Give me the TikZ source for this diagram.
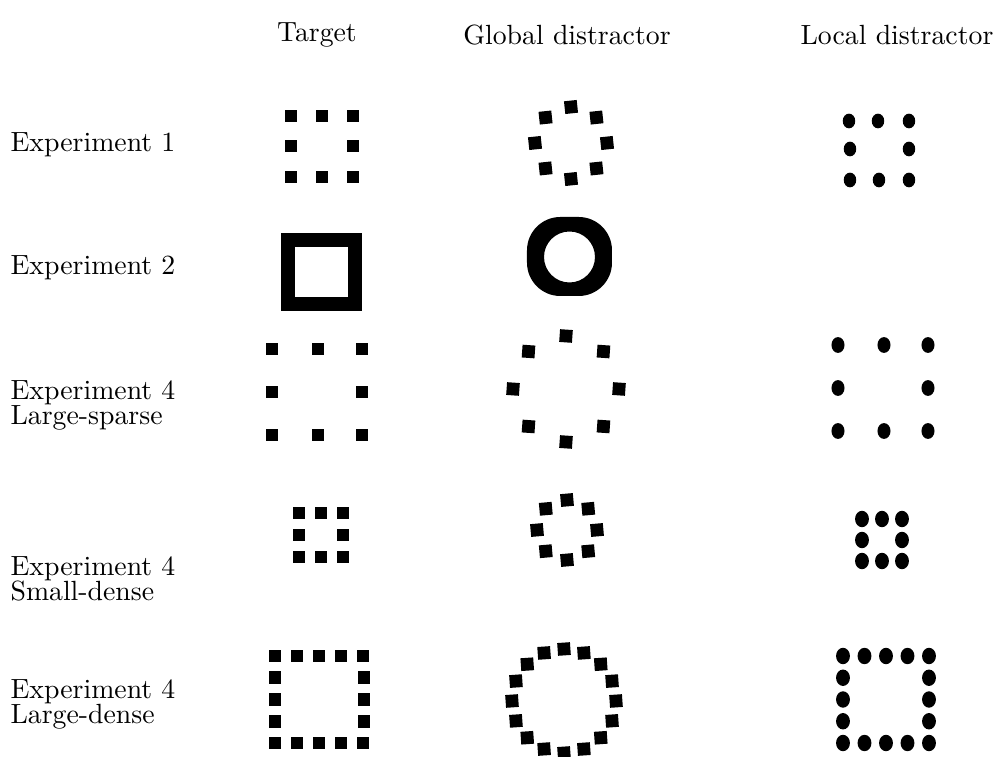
\documentclass[tikz,border=0pt]{standalone}
\usetikzlibrary{shapes.geometric}

\begin{document}
\begin{tikzpicture}[x=0.36pt,y=-0.36pt,
  head/.style={inner sep=0pt},
  lab/.style={anchor=west,align=left,inner sep=0pt},
  sq/.style={fill=black,minimum size=4.6pt,inner sep=0pt},
  dot/.style={fill=black,ellipse,minimum width=4.5pt,minimum height=5.3pt,inner sep=0pt},
  bigdot/.style={dot,minimum width=5pt,minimum height=5.9pt}]
\useasboundingbox (0,0) rectangle (993,757);
% --- column heads ---
\node[head] (hT) at (317,35) {Target};
\node[head] (hG) at (567,35) {Global distractor};
\node[head] (hL) at (897,35) {Local distractor};
% --- row labels ---
\node[lab] (r1) at (10,145) {Experiment 1};
\node[lab] (r2) at (10,268) {Experiment 2};
\node[lab] (r3) at (10,405) {Experiment 4\\[-3pt]Large-sparse};
\node[lab] (r4) at (10,579) {Experiment 4\\[-3pt]Small-dense};
\node[lab] (r5) at (10,704) {Experiment 4\\[-3pt]Large-dense};
% --- experiment 1 ---
\foreach \x/\y [count=\i] in {291/116,322/116,353/116,291/146,353/146,291/177,322/177,353/177}
  \node[sq] (tA\i) at (\x,\y) {};
\foreach \a [count=\i] in {90,135,...,405}
  \node[sq,rotate=6] (gA\i) at ({571+36*cos(\a)},{143-36*sin(\a)}) {};
\foreach \x/\y [count=\i] in {849/121,878/121,909/121,850/149,909/149,850/180,879/180,909/180}
  \node[dot] (lA\i) at (\x,\y) {};
% --- experiment 2 (outlines) ---
\draw[line width=5pt] (288,240) rectangle (355,304);
\path[fill=black,even odd rule] [rounded corners=12pt] (527,217) rectangle (612,296)
  [sharp corners] (569.5,257) circle [radius=25.5];
% --- experiment 4, large-sparse ---
\foreach \x/\y [count=\i] in {272/349,318/349,362/349,272/392,362/392,272/435,318/435,362/435}
  \node[sq] (tB\i) at (\x,\y) {};
\foreach \a [count=\i] in {90,135,...,405}
  \node[sq,rotate=-4] (gB\i) at ({566+53*cos(\a)},{389-53*sin(\a)}) {};
\foreach \x/\y [count=\i] in {838/345,884/345,928/345,838/388,928/388,838/431,884/431,928/431}
  \node[dot,minimum width=4.7pt,minimum height=5.7pt] (lB\i) at (\x,\y) {};
% --- experiment 4, small-dense ---
\foreach \x/\y [count=\i] in {299/513,321/513,343/513,299/535,343/535,299/557,321/557,343/557}
  \node[sq] (tC\i) at (\x,\y) {};
\foreach \a [count=\i] in {90,135,...,405}
  \node[sq,rotate=5] (gC\i) at ({567+30*cos(\a)},{530-30*sin(\a)}) {};
\foreach \x/\y [count=\i] in {862/519,882/519,902/519,862/540,902/540,862/561,882/561,902/561}
  \node[bigdot] (lC\i) at (\x,\y) {};
% --- experiment 4, large-dense ---
\foreach \k in {0,...,4} {
  \node[sq] (tDt\k) at (275+22*\k,656) {};
  \node[sq] (tDb\k) at (275+22*\k,743) {};
  \node[bigdot] (lDt\k) at (843+21.5*\k,656) {};
  \node[bigdot] (lDb\k) at (843+21.5*\k,743) {};
}
\foreach \k in {1,2,3} {
  \node[sq] (tDl\k) at (275,656+21.75*\k) {};
  \node[sq] (tDr\k) at (364,656+21.75*\k) {};
  \node[bigdot] (lDl\k) at (843,656+21.75*\k) {};
  \node[bigdot] (lDr\k) at (929,656+21.75*\k) {};
}
\foreach \a [count=\i] in {90,112.5,...,427.5}
  \node[sq,rotate=4] (gD\i) at ({564+52*cos(\a)},{701-52*sin(\a)}) {};
\end{tikzpicture}
\end{document}
